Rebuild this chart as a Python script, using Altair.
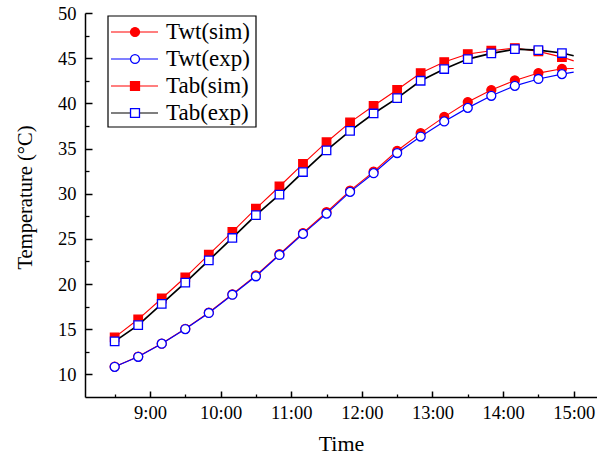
import altair as alt
import pandas as pd

# ---------------- data ----------------
times = ["8:30", "8:50", "9:10", "9:30", "9:50", "10:10", "10:30", "10:50",
         "11:10", "11:30", "11:50", "12:10", "12:30", "12:50", "13:10",
         "13:30", "13:50", "14:10", "14:30", "14:50", "15:00"]
twt_sim = [10.85, 11.98, 13.42, 15.05, 16.85, 18.87, 20.95, 23.30, 25.65, 27.95,
           30.35, 32.45, 34.75, 36.70, 38.50, 40.14, 41.47, 42.53, 43.35, 43.83, 43.86]
twt_exp = [10.84, 11.95, 13.40, 15.02, 16.80, 18.82, 20.86, 23.22, 25.55, 27.80,
           30.20, 32.27, 34.50, 36.33, 38.00, 39.50, 40.84, 41.94, 42.70, 43.24, 43.46]
tab_sim = [14.10, 16.10, 18.40, 20.75, 23.25, 25.77, 28.35, 30.80, 33.30, 35.70,
           37.90, 39.73, 41.50, 43.35, 44.57, 45.46, 45.82, 46.12, 45.75, 45.12, 44.70]
tab_exp = [13.66, 15.46, 17.80, 20.15, 22.63, 25.10, 27.62, 29.90, 32.40, 34.80,
           36.96, 38.88, 40.58, 42.50, 43.80, 44.90, 45.53, 46.00, 45.90, 45.57, 45.27]
n_markers = 20  # the last time point carries no marker

series_names = ["Twt(sim)", "Twt(exp)", "Tab(sim)", "Tab(exp)"]
series_values = [twt_sim, twt_exp, tab_sim, tab_exp]
line_colors = ["#ff0000", "#0000ff", "#ff0000", "#000000"]
marker_fills = ["#ff0000", "#ffffff", "#ff0000", "#ffffff"]
marker_strokes = ["#ff0000", "#0000ff", "#ff0000", "#0000ff"]
marker_shapes = ["circle", "circle", "square", "square"]
marker_sizes = [80, 80, 72, 72]
line_widths = [1.1, 1.2, 1.1, 1.7]

x_major = [9, 10, 11, 12, 13, 14, 15]
x_minor = [8.5, 9.5, 10.5, 11.5, 12.5, 13.5, 14.5]
y_major = [10, 15, 20, 25, 30, 35, 40, 45, 50]
y_minor = [12.5, 17.5, 22.5, 27.5, 32.5, 37.5, 42.5, 47.5]


def to_hours(s):
    h, m = s.split(":")
    return int(h) + int(m) / 60.0


hours = [to_hours(s) for s in times]
FONT = "Liberation Serif"

xscale = alt.Scale(domain=[8.08, 15.33], nice=False, zero=False)
yscale = alt.Scale(domain=[7.5, 50], nice=False, zero=False)

layers = []
frames = []
for i, name in enumerate(series_names):
    df = pd.DataFrame({
        "t": hours,
        "v": series_values[i],
        "marker": [k < n_markers for k in range(len(hours))],
        "series": name,
    })
    frames.append(df)
    base = alt.Chart(df)
    line = base.mark_line(color=line_colors[i], strokeWidth=line_widths[i]).encode(
        x=alt.X("t:Q", scale=xscale, axis=None),
        y=alt.Y("v:Q", scale=yscale, axis=None),
    )
    pts = base.transform_filter("datum.marker").mark_point(
        shape=marker_shapes[i], size=marker_sizes[i], filled=True,
        fill=marker_fills[i], stroke=marker_strokes[i], strokeWidth=1.3, opacity=1,
    ).encode(
        x=alt.X("t:Q", scale=xscale, axis=None),
        y=alt.Y("v:Q", scale=yscale, axis=None),
    )
    layers += [line, pts]

all_df = pd.concat(frames, ignore_index=True)

common = dict(labelFont=FONT, labelColor="black", domainColor="black",
              tickColor="black", grid=False)

# main axes: domain, labels, titles
axis_main = alt.Chart(all_df).mark_point(opacity=0).encode(
    x=alt.X("t:Q", scale=xscale, axis=alt.Axis(
        orient="bottom", values=x_major,
        labelExpr="format(datum.value, 'd') + ':00'",
        ticks=False, tickSize=0, labelPadding=6, labelFontSize=18.5,
        labelFlush=False, labelOverlap=False, domainWidth=1.5,
        title="Time", titleFont=FONT, titleFontSize=22, titleFontWeight="normal",
        titleColor="black", titlePadding=12, **common)),
    y=alt.Y("v:Q", scale=yscale, axis=alt.Axis(
        orient="left", values=y_major, format="d",
        ticks=False, tickSize=0, labelPadding=9, labelFontSize=18.5,
        labelFlush=False, labelOverlap=False, domainWidth=1.5,
        title="Temperature (°C)", titleFont=FONT, titleFontSize=20.5,
        titleFontWeight="normal", titleColor="black", titlePadding=22,
        titleY=184, **common)),
)

# inward major ticks
axis_major = alt.Chart(all_df).mark_point(opacity=0).encode(
    x=alt.X("t:Q", scale=xscale, title=None, axis=alt.Axis(
        orient="bottom", values=x_major, labels=False, domain=False,
        offset=-6, tickSize=6, tickWidth=1.5, **common)),
    y=alt.Y("v:Q", scale=yscale, title=None, axis=alt.Axis(
        orient="left", values=y_major, labels=False, domain=False,
        offset=-7, tickSize=7, tickWidth=1.5, **common)),
)

# inward minor ticks
axis_minor = alt.Chart(all_df).mark_point(opacity=0).encode(
    x=alt.X("t:Q", scale=xscale, title=None, axis=alt.Axis(
        orient="bottom", values=x_minor, labels=False, domain=False,
        offset=-3, tickSize=3, tickWidth=1.3, **common)),
    y=alt.Y("v:Q", scale=yscale, title=None, axis=alt.Axis(
        orient="left", values=y_minor, labels=False, domain=False,
        offset=-4, tickSize=4, tickWidth=1.3, **common)),
)

# ---------------- legend ----------------
legend_df = pd.DataFrame({
    "label": series_names,
    "lineColor": line_colors,
    "fill": marker_fills,
    "stroke": marker_strokes,
    "shape": marker_shapes,
})
leg_y = alt.Y("label:N", scale=alt.Scale(type="point", domain=series_names,
                                         range=[19, 100], padding=0), axis=None)

leg_box = alt.Chart(legend_df).transform_filter("datum.label == 'Twt(sim)'").mark_rect(
    fill="white", stroke="black", strokeWidth=1.2
).encode(x=alt.value(23), x2=alt.value(171), y=alt.value(3), y2=alt.value(114))

leg_lines = alt.Chart(legend_df).mark_rule(strokeWidth=1.2).encode(
    x=alt.value(26), x2=alt.value(73), y=leg_y,
    color=alt.Color("lineColor:N", scale=None),
)
leg_pts = alt.Chart(legend_df).mark_point(filled=True, size=80, strokeWidth=1.3, opacity=1).encode(
    x=alt.value(50), y=leg_y,
    fill=alt.Fill("fill:N", scale=None),
    stroke=alt.Stroke("stroke:N", scale=None),
    shape=alt.Shape("shape:N", scale=None),
)
leg_text = alt.Chart(legend_df).mark_text(
    align="left", baseline="middle", font=FONT, fontSize=23, color="black"
).encode(x=alt.value(81), y=leg_y, text="label:N")

chart = alt.layer(
    axis_main, axis_major, axis_minor, *layers,
    leg_box, leg_lines, leg_pts, leg_text,
).resolve_scale(
    x="independent", y="independent"
).resolve_axis(
    x="independent", y="independent"
).properties(
    width=512, height=384,
    padding={"left": 85, "top": 13, "right": 0, "bottom": 62},
    autosize=alt.AutoSizeParams(type="none"),
    background="white",
).configure_view(stroke=None)

chart.save("out.html", embed_options={"renderer": "svg", "actions": False})
